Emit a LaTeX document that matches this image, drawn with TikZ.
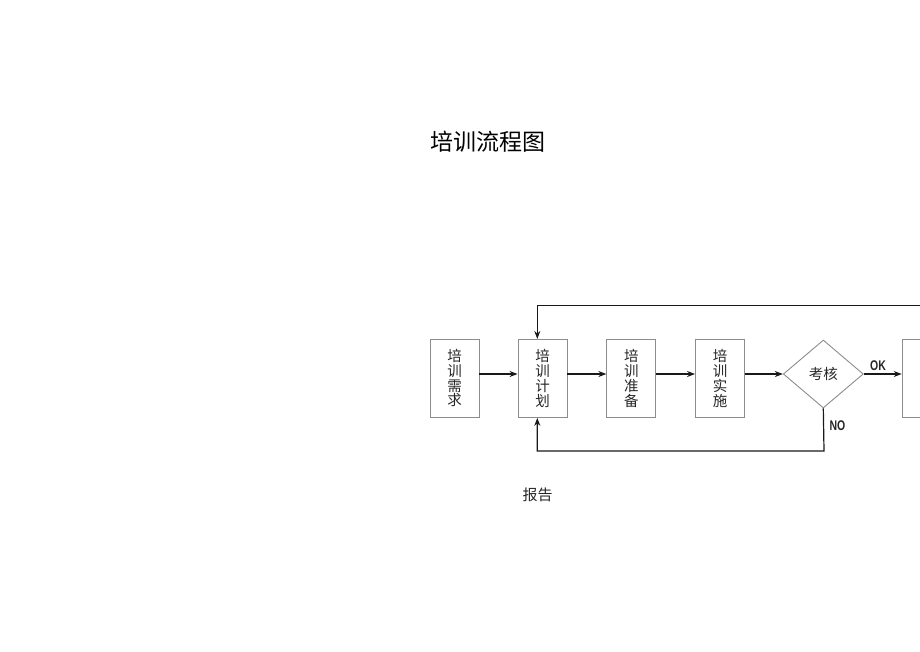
\documentclass[tikz,border=0pt]{standalone}
\usepackage{fontspec}
\usetikzlibrary{shapes.geometric,arrows.meta}
\newfontfamily\cjk{Noto Sans CJK SC}
\setmainfont{Liberation Sans}
\begin{document}
\begin{tikzpicture}[x=1pt,y=-1pt,
  stepbox/.style={draw=black!45, line width=0.9pt, minimum width=49pt, minimum height=78pt, inner sep=0pt,
    font=\cjk\fontsize{14.5}{14.7}\selectfont, align=center, text=black!85},
  arr/.style={-{Stealth[length=8pt,width=6pt]}, line width=1.2pt, black!90},
  lbl/.style={font=\fontsize{14}{14}\selectfont\bfseries, text=black!85, inner sep=0pt}]
\useasboundingbox (0,0) rectangle (920,651);
\clip (0,0) rectangle (920,651);
\node[font=\cjk\fontsize{23}{23}\selectfont] (title) at (487.5,142) {培训流程图};
\node[stepbox] (n1) at (454.5,378.4) {培\\训\\需\\求};
\node[stepbox] (n2) at (542.5,378.4) {培\\训\\计\\划};
\node[stepbox] (n3) at (631.3,378.4) {培\\训\\准\\备};
\node[stepbox] (n4) at (720,378.4) {培\\训\\实\\施};
\node[draw=black!45, line width=0.9pt, diamond, minimum width=80pt, minimum height=68pt, inner sep=0pt, aspect=1.18,
  font=\cjk\fontsize{14.5}{14}\selectfont, text=black!85] (d) at (823.3,374) {考核};
\node[stepbox, anchor=west] (n5) at (901.7,378.4) {};
\coordinate (tr) at (925,305.7);
\coordinate (p) at (537.3,305.7);
\coordinate (bl) at (537.3,451);
\coordinate (br) at (824,451);
\draw[arr] (n1.east |- d) -- (n2.west |- d);
\draw[arr] (n2.east |- d) -- (n3.west |- d);
\draw[arr] (n3.east |- d) -- (n4.west |- d);
\draw[arr] (n4.east |- d) -- (d.west);
\draw[arr] (d.east) -- (n5.west |- d);
\draw[arr] (tr) -- (p) -- (p |- n2.north);
\draw[arr] (d.south) -- (br) -- (bl) -- (bl |- n2.south);
\node[lbl] (ok) at (878,366) {\scalebox{0.75}[1]{OK}};
\node[lbl] (no) at (837.5,426) {\scalebox{0.75}[1]{NO}};
\node[font=\cjk\fontsize{15}{15}\selectfont, text=black!85] (rep) at (537.5,495) {报告};
\end{tikzpicture}
\end{document}
